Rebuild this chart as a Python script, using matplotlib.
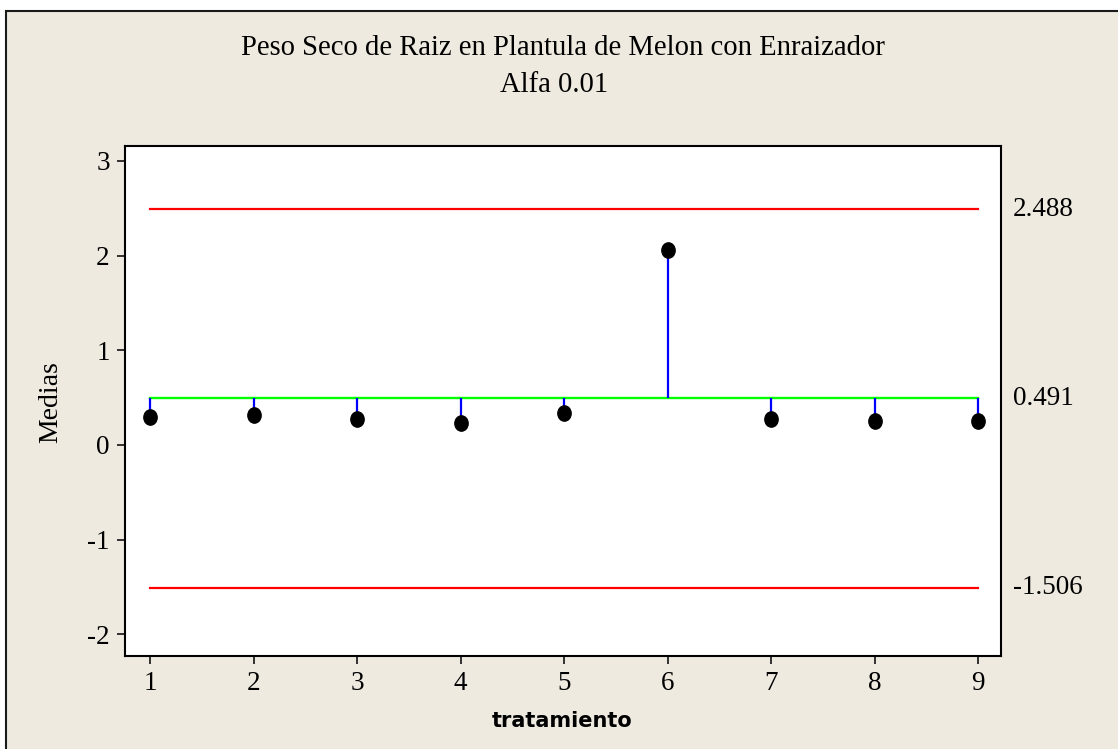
import numpy as np
import matplotlib
matplotlib.use("Agg")
import matplotlib.pyplot as plt
from matplotlib.path import Path
from matplotlib.patches import Rectangle

# Treatment means and decision limits (ANOM, alpha 0.01)
tratamientos = [1, 2, 3, 4, 5, 6, 7, 8, 9]
medias = [0.293, 0.314, 0.271, 0.232, 0.335, 2.060, 0.271, 0.250, 0.250]
centro = 0.491
lim_sup = 2.488
lim_inf = -1.506
y_ticks = [-2, -1, 0, 1, 2, 3]

beige = "#EEEAE0"
serif = "Liberation Serif"
plt.rcParams["axes.unicode_minus"] = False

fig = plt.figure(figsize=(11.18, 7.49), dpi=100, facecolor="white")

# beige panel with a dark edge along the top and left
fig.patches.append(Rectangle((6 / 1118, -0.05), 1.2, 1 - 11 / 749 + 0.05,
                             transform=fig.transFigure, facecolor=beige,
                             edgecolor="#1a1a1a", linewidth=1.5, zorder=-5))

ax = fig.add_axes([125 / 1118, 93 / 749, 876 / 1118, 510 / 749])
ax.set_facecolor("white")

x0, x1 = tratamientos[0], tratamientos[-1]
ax.plot([x0, x1], [lim_sup, lim_sup], color="#FF0000", lw=1.6)
ax.plot([x0, x1], [lim_inf, lim_inf], color="#FF0000", lw=1.6)
ax.plot([x0, x1], [centro, centro], color="#00FF00", lw=1.7)
ax.vlines(tratamientos, centro, medias, color="#0000FF", lw=1.6)

# slightly tall ellipse marker
circ = Path.unit_circle()
oval = Path(circ.vertices * np.array([0.87, 1.0]), circ.codes)
ax.plot(tratamientos, medias, linestyle="none", marker=oval,
        markersize=11, color="black", zorder=5)

ax.set_xlim(0.758, 9.222)
ax.set_ylim(-2.229, 3.158)
ax.set_xticks(tratamientos)
ax.set_yticks(y_ticks)
ax.tick_params(direction="out", length=6, width=1.1, labelsize=19.5, pad=5)
for lab in ax.get_xticklabels() + ax.get_yticklabels():
    lab.set_family(serif)
for sp in ax.spines.values():
    sp.set_linewidth(1.5)
    sp.set_color("black")

for val in (lim_sup, centro, lim_inf):
    ax.annotate(f"{val:.3f}", xy=(1, val), xycoords=("axes fraction", "data"),
                xytext=(8.5, 0), textcoords="offset points",
                ha="left", va="center", fontsize=19.5, family=serif)

cx = (125 + 1001) / 2 / 1118
fig.text(cx, 1 - 55 / 749, "Peso Seco de Raiz en Plantula de Melon con Enraizador",
         ha="center", va="baseline", fontsize=20.6, family=serif)
fig.text(cx - 0.008, 1 - 92 / 749, "Alfa 0.01",
         ha="center", va="baseline", fontsize=20.6, family=serif)

fig.text(562 / 1118, 1 - 727 / 749, "tratamiento", ha="center", va="baseline",
         fontsize=15, fontweight="bold", family="DejaVu Sans")
fig.text(51 / 1118, 1 - 402 / 749, "Medias", rotation=90, ha="center",
         va="center", fontsize=20, family=serif)

fig.savefig("out.png", dpi=100, facecolor=fig.get_facecolor())
